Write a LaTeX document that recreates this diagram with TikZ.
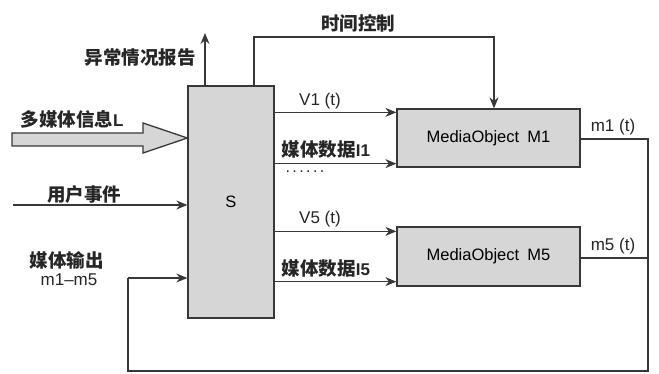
\documentclass[tikz,border=0pt]{standalone}
\usepackage{fontspec}
\setmainfont{Liberation Sans}
\newfontfamily\cjk{Noto Sans CJK SC}
\usetikzlibrary{arrows.meta,calc}
\definecolor{ink}{HTML}{383838}
\definecolor{boxfill}{HTML}{D6D6D6}
\tikzset{
  conn/.style={draw=ink,line width=1.3pt},
  arr/.style={conn,-{Stealth[length=11pt,width=9pt]}},
  blk/.style={draw=ink,line width=1.3pt,fill=boxfill,inner sep=0pt,
              font=\fontsize{16.5}{19}\selectfont},
  lab/.style={inner sep=0pt,text=black!85,font=\fontsize{17}{20}\selectfont},
  zh/.style={inner sep=0pt,text=black!85,font=\fontsize{18.5}{21}\selectfont\cjk\bfseries},
}
\newcommand{\lat}[1]{{\fontspec{Liberation Sans}\bfseries\fontsize{17}{20}\selectfont #1}}
\begin{document}
\begin{tikzpicture}[x=1pt,y=-1pt]
\useasboundingbox (0,0) rectangle (659,373);
% blocks
\node[blk,minimum width=86pt,minimum height=232pt] (S) at (231,202) {S};
\node[blk,minimum width=183pt,minimum height=58pt] (M1) at (488.5,138) {MediaObject\enspace M1};
\node[blk,minimum width=183pt,minimum height=59pt] (M5) at (488.5,256.5) {MediaObject\enspace M5};
% big input arrow
\draw[draw=ink,line width=1.3pt,fill=boxfill,line join=miter]
  (12,133) -- (143,133) -- (143,123) -- (S.west |- 0,138) -- (143,153) -- (143,146) -- (12,146) -- cycle;
\node[zh] (L) at (72,119) {多媒体信息\lat{L}};
% user event
\coordinate (ue) at (13,205);
\draw[arr] (ue) -- (S.west |- ue);
\node[zh] (uel) at (84,194) {用户事件};
% exception report
\coordinate (rep) at (205,33);
\draw[arr] (S.north -| rep) -- (rep);
\node[zh] (repl) at (140,58) {异常情况报告};
% time control
\coordinate (tc) at (254,37);
\draw[arr] (S.north -| tc) -- (tc) -| ([xshift=5.5pt]M1.north);
\node[zh] (tcl) at (358,23) {时间控制};
% S -> M1
\coordinate (v1) at ([yshift=-4pt]M1.north west);
\coordinate (i1) at ([yshift=4pt]M1.south west);
\draw[arr] (S.east |- v1) -- (v1);
\draw[arr] (S.east |- i1) -- (i1);
\node[lab] (v1l) at (320,101) {V1 (t)};
\node[zh] (i1l) at (326,150) {媒体数据\lat{I1}};
\node[lab] (dots) at (305,172) {\fontsize{16}{18}\selectfont\addfontfeatures{LetterSpace=15}......};
% S -> M5
\coordinate (v5) at ([yshift=-5pt]M5.north west);
\coordinate (i5) at ([yshift=5pt]M5.south west);
\draw[arr] (S.east |- v5) -- (v5);
\draw[arr] (S.east |- i5) -- (i5);
\node[lab] (v5l) at (320,219) {V5 (t)};
\node[zh] (i5l) at (326,269) {媒体数据\lat{I5}};
% outputs and feedback
\coordinate (rx) at (648,139);
\coordinate (bot) at (648,371);
\coordinate (fb) at (128,278);
\draw[conn] (M1.east |- rx) -- (rx) -- (bot) -| (fb);
\draw[arr] (fb) -- (S.west |- fb);
\draw[conn] ([yshift=-1.5pt]M5.east) -- ([yshift=-1.5pt]M5.east -| rx);
\node[lab] (m1l) at (613,127) {m1 (t)};
\node[lab] (m5l) at (613,246) {m5 (t)};
\node[zh] (outl) at (67,260) {媒体输出};
\node[lab] (outr) at (69,280) {m1--m5};
\end{tikzpicture}
\end{document}
